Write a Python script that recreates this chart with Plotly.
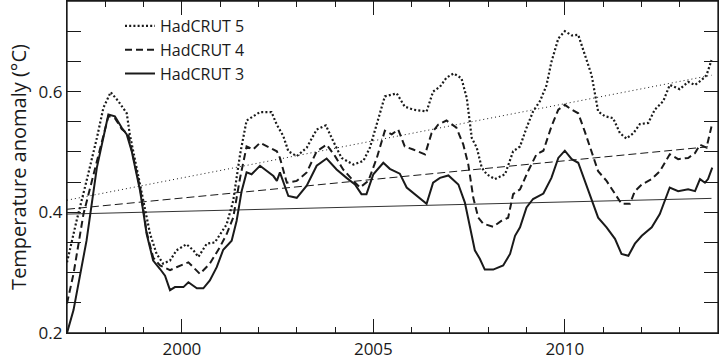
import plotly.graph_objects as go

# ---------------- data ----------------
h3_year = [1997.00, 1997.17, 1997.51, 1997.78, 1998.08, 1998.25, 1998.43, 1998.56, 1998.69, 1998.91,
           1999.08, 1999.25, 1999.43, 1999.56, 1999.69, 1999.82, 2000.04, 2000.17, 2000.39, 2000.56,
           2000.73, 2000.91, 2001.08, 2001.30, 2001.43, 2001.56, 2001.69, 2001.82, 2002.04, 2002.21,
           2002.39, 2002.48, 2002.56, 2002.78, 2003.00, 2003.26, 2003.52, 2003.78, 2004.04, 2004.30,
           2004.52, 2004.69, 2004.82, 2005.00, 2005.26, 2005.43, 2005.69, 2005.87, 2006.13, 2006.39,
           2006.56, 2006.74, 2006.96, 2007.22, 2007.39, 2007.52, 2007.65, 2007.78, 2007.91, 2008.13,
           2008.39, 2008.57, 2008.70, 2008.83, 2009.00, 2009.17, 2009.44, 2009.65, 2009.83, 2010.00,
           2010.18, 2010.35, 2010.52, 2010.70, 2010.87, 2011.09, 2011.31, 2011.48, 2011.66, 2011.83,
           2012.01, 2012.27, 2012.48, 2012.74, 2012.96, 2013.22, 2013.40, 2013.53, 2013.66, 2013.74,
           2013.85]
h3_anom = [0.200, 0.238, 0.353, 0.474, 0.562, 0.559, 0.540, 0.529, 0.501, 0.435,
           0.364, 0.320, 0.306, 0.295, 0.271, 0.276, 0.276, 0.284, 0.274, 0.274,
           0.287, 0.309, 0.338, 0.353, 0.386, 0.435, 0.466, 0.463, 0.477, 0.468,
           0.460, 0.452, 0.466, 0.427, 0.424, 0.444, 0.477, 0.489, 0.471, 0.457,
           0.446, 0.430, 0.430, 0.463, 0.482, 0.472, 0.464, 0.441, 0.427, 0.414,
           0.449, 0.457, 0.461, 0.446, 0.416, 0.375, 0.337, 0.323, 0.305, 0.305,
           0.312, 0.331, 0.361, 0.375, 0.408, 0.422, 0.431, 0.457, 0.490, 0.502,
           0.488, 0.482, 0.452, 0.419, 0.391, 0.375, 0.356, 0.331, 0.328, 0.348,
           0.361, 0.375, 0.397, 0.441, 0.435, 0.438, 0.435, 0.455, 0.449, 0.455,
           0.474]

h4_year = [1997.00, 1997.17, 1997.43, 1997.69, 1998.08, 1998.25, 1998.43, 1998.60, 1998.91, 1999.08,
           1999.25, 1999.43, 1999.69, 1999.86, 2000.17, 2000.47, 2000.73, 2000.99, 2001.17, 2001.34,
           2001.52, 2001.69, 2001.86, 2002.04, 2002.30, 2002.48, 2002.56, 2002.74, 2003.00, 2003.26,
           2003.52, 2003.78, 2004.00, 2004.21, 2004.48, 2004.65, 2004.87, 2005.09, 2005.30, 2005.48,
           2005.65, 2005.82, 2006.04, 2006.35, 2006.52, 2006.69, 2006.91, 2007.17, 2007.35, 2007.48,
           2007.61, 2007.74, 2007.87, 2008.13, 2008.35, 2008.52, 2008.65, 2008.83, 2009.04, 2009.26,
           2009.44, 2009.65, 2009.83, 2010.00, 2010.18, 2010.35, 2010.52, 2010.70, 2010.87, 2011.09,
           2011.31, 2011.48, 2011.70, 2011.83, 2012.01, 2012.27, 2012.48, 2012.74, 2012.96, 2013.22,
           2013.40, 2013.53, 2013.70, 2013.83]
h4_anom = [0.249, 0.298, 0.397, 0.463, 0.559, 0.556, 0.538, 0.529, 0.440, 0.367,
           0.325, 0.312, 0.304, 0.309, 0.317, 0.298, 0.315, 0.342, 0.364, 0.391,
           0.457, 0.509, 0.504, 0.515, 0.507, 0.501, 0.490, 0.449, 0.452, 0.466,
           0.501, 0.512, 0.493, 0.471, 0.452, 0.441, 0.452, 0.490, 0.535, 0.529,
           0.537, 0.509, 0.504, 0.496, 0.531, 0.545, 0.552, 0.540, 0.512, 0.479,
           0.424, 0.391, 0.381, 0.376, 0.386, 0.391, 0.430, 0.438, 0.468, 0.496,
           0.502, 0.542, 0.570, 0.578, 0.570, 0.564, 0.534, 0.501, 0.468, 0.452,
           0.430, 0.414, 0.414, 0.435, 0.446, 0.455, 0.468, 0.496, 0.488, 0.490,
           0.498, 0.512, 0.507, 0.542]

h5_year = [1997.00, 1997.25, 1997.51, 1997.78, 1997.95, 1998.14, 1998.34, 1998.56, 1998.64, 1998.82,
           1998.99, 1999.17, 1999.34, 1999.51, 1999.69, 1999.86, 2000.12, 2000.30, 2000.43, 2000.65,
           2000.86, 2001.08, 2001.17, 2001.34, 2001.52, 2001.69, 2001.86, 2002.04, 2002.34, 2002.48,
           2002.65, 2002.78, 2003.00, 2003.26, 2003.52, 2003.76, 2003.95, 2004.17, 2004.48, 2004.74,
           2004.91, 2005.09, 2005.30, 2005.61, 2005.82, 2006.04, 2006.39, 2006.56, 2006.74, 2006.91,
           2007.10, 2007.30, 2007.44, 2007.57, 2007.70, 2007.83, 2007.96, 2008.17, 2008.44, 2008.65,
           2008.83, 2009.00, 2009.17, 2009.35, 2009.52, 2009.65, 2009.83, 2010.00, 2010.18, 2010.35,
           2010.52, 2010.70, 2010.87, 2011.05, 2011.26, 2011.44, 2011.61, 2011.79, 2011.96, 2012.18,
           2012.35, 2012.57, 2012.74, 2013.00, 2013.22, 2013.40, 2013.57, 2013.70, 2013.83]
h5_anom = [0.317, 0.386, 0.452, 0.523, 0.573, 0.599, 0.584, 0.564, 0.529, 0.474,
           0.419, 0.364, 0.331, 0.315, 0.320, 0.337, 0.347, 0.337, 0.326, 0.348,
           0.350, 0.372, 0.380, 0.419, 0.496, 0.552, 0.559, 0.566, 0.566, 0.545,
           0.526, 0.501, 0.493, 0.507, 0.537, 0.544, 0.518, 0.490, 0.479, 0.485,
           0.507, 0.545, 0.592, 0.597, 0.575, 0.570, 0.567, 0.600, 0.608, 0.623,
           0.630, 0.622, 0.589, 0.523, 0.507, 0.474, 0.463, 0.455, 0.463, 0.501,
           0.509, 0.540, 0.567, 0.584, 0.610, 0.649, 0.688, 0.700, 0.693, 0.694,
           0.663, 0.627, 0.567, 0.559, 0.556, 0.531, 0.522, 0.531, 0.546, 0.548,
           0.570, 0.584, 0.611, 0.604, 0.616, 0.611, 0.619, 0.627, 0.652]

# linear trend end points
trend_year = [1997.0, 2013.83]
trend_h5 = [0.420, 0.627]
trend_h4 = [0.405, 0.509]
trend_h3 = [0.397, 0.423]

series_names = ["HadCRUT 5", "HadCRUT 4", "HadCRUT 3"]

x_range = [1997, 2014]
y_range = [0.2, 0.75]

# ---------------- figure ----------------
INK = "#1a1a1a"
FONT = "Open Sans"

fig = go.Figure()

# trend lines (thin)
fig.add_trace(go.Scatter(x=trend_year, y=trend_h5, mode="lines", showlegend=False, hoverinfo="skip",
                         line=dict(color=INK, width=1, dash="1px,3px")))
fig.add_trace(go.Scatter(x=trend_year, y=trend_h4, mode="lines", showlegend=False, hoverinfo="skip",
                         line=dict(color=INK, width=1, dash="8px,4px")))
fig.add_trace(go.Scatter(x=trend_year, y=trend_h3, mode="lines", showlegend=False, hoverinfo="skip",
                         line=dict(color="#333333", width=1)))

# smoothed series
fig.add_trace(go.Scatter(x=h5_year, y=h5_anom, mode="lines", name=series_names[0],
                         line=dict(color=INK, width=2.2, dash="2px,2.2px")))
fig.add_trace(go.Scatter(x=h4_year, y=h4_anom, mode="lines", name=series_names[1],
                         line=dict(color=INK, width=2, dash="7px,4px")))
fig.add_trace(go.Scatter(x=h3_year, y=h3_anom, mode="lines", name=series_names[2],
                         line=dict(color=INK, width=2)))

# empty helper trace so the mirrored (top / right) axes get drawn
fig.add_trace(go.Scatter(x=[None], y=[None], xaxis="x2", yaxis="y2", mode="lines",
                         showlegend=False, hoverinfo="skip"))

fig.update_layout(
    width=720, height=363,
    margin=dict(l=67, r=2, t=1, b=30, autoexpand=False),
    paper_bgcolor="white", plot_bgcolor="white",
    font=dict(family=FONT, size=17, color=INK),
    showlegend=True,
    legend=dict(x=(120 - 67) / 651, xanchor="left", y=1 - 8 / 332, yanchor="top",
                bgcolor="rgba(0,0,0,0)", borderwidth=0, tracegroupgap=0,
                font=dict(family=FONT, size=16, color=INK)),
    shapes=[dict(type="rect", xref="paper", yref="paper", x0=0, x1=1, y0=0, y1=1,
                 line=dict(color=INK, width=1.3), fillcolor="rgba(0,0,0,0)", layer="above")],
    xaxis=dict(
        range=x_range, showgrid=False, zeroline=False,
        showline=True, linecolor=INK, linewidth=1.3,
        ticks="inside", ticklen=14, tickwidth=1.2, tickcolor=INK,
        tick0=2000, dtick=5,
        minor=dict(ticks="inside", ticklen=6, tickwidth=1.2, tickcolor=INK, dtick=1, tick0=2000, showgrid=False),
        tickfont=dict(family=FONT, size=17, color=INK),
    ),
    yaxis=dict(
        range=y_range, showgrid=False, zeroline=False,
        showline=True, linecolor=INK, linewidth=1.3,
        ticks="inside", ticklen=14, tickwidth=1.2, tickcolor=INK,
        tick0=0.2, dtick=0.2, tickformat=".1f",
        minor=dict(ticks="inside", ticklen=14, tickwidth=1.2, tickcolor=INK, dtick=0.05, tick0=0.2, showgrid=False),
        tickfont=dict(family=FONT, size=17, color=INK),
        title=dict(text="Temperature anomaly (°C)", font=dict(family=FONT, size=20, color=INK), standoff=6),
    ),
    xaxis2=dict(
        overlaying="x", side="top", anchor="y", range=x_range, showgrid=False, zeroline=False,
        showline=True, linecolor=INK, linewidth=1.3, showticklabels=False,
        ticks="inside", ticklen=14, tickwidth=1.2, tickcolor=INK, tick0=2000, dtick=5,
        minor=dict(ticks="inside", ticklen=6, tickwidth=1.2, tickcolor=INK, dtick=1, tick0=2000, showgrid=False),
    ),
    yaxis2=dict(
        overlaying="y", side="right", anchor="x", range=y_range, showgrid=False, zeroline=False,
        showline=True, linecolor=INK, linewidth=1.3, showticklabels=False,
        ticks="inside", ticklen=14, tickwidth=1.2, tickcolor=INK, tick0=0.2, dtick=0.2,
        minor=dict(ticks="inside", ticklen=14, tickwidth=1.2, tickcolor=INK, dtick=0.05, tick0=0.2, showgrid=False),
    ),
)

fig.write_html(
    "out.html",
    config={"displayModeBar": False},
    post_script="document.body.style.margin='0';document.body.style.padding='0';"
                "document.body.style.overflow='hidden';",
)
